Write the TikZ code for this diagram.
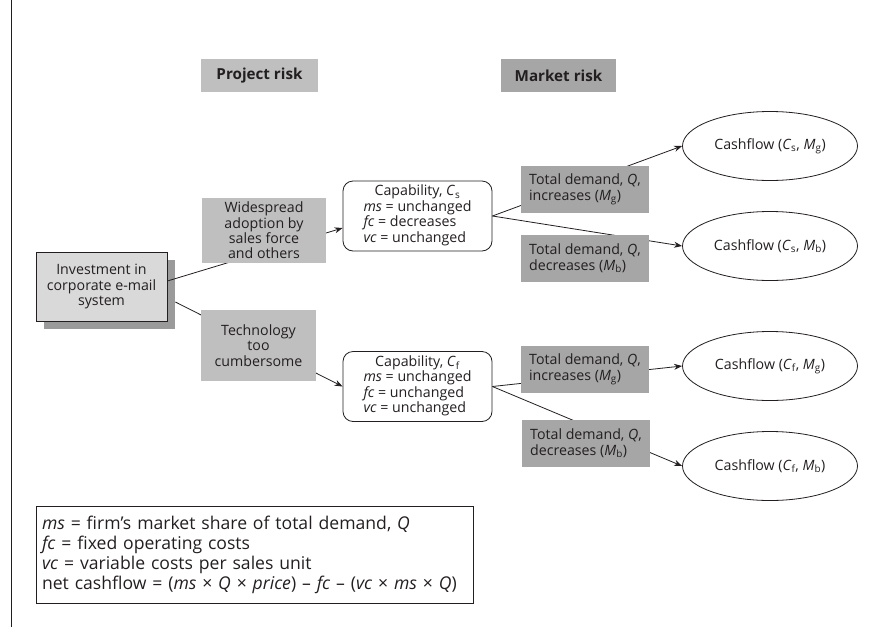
\documentclass[tikz,border=0pt]{standalone}
\usepackage{fontspec}
\setmainfont{Open Sans}
\usetikzlibrary{calc,arrows.meta,shapes.geometric,shadows}
\definecolor{ink}{HTML}{231F20}
\definecolor{paleGray}{HTML}{D9D9D9}
\definecolor{midGray}{HTML}{BFBFBF}
\definecolor{darkGray}{HTML}{A6A6A6}
\definecolor{shadowGray}{HTML}{9A9A9A}

\begin{document}
\begin{tikzpicture}[x=1pt,y=-1pt,
  txt/.style={font=\fontsize{14.2}{15.4}\selectfont, text=ink, inner sep=0pt, align=center},
  head/.style={txt, font=\fontsize{15.2}{17}\selectfont\bfseries, minimum height=33pt},
  graybox/.style={txt, rectangle, fill=midGray},
  darkbox/.style={txt, rectangle, fill=darkGray, align=left, minimum width=128pt, minimum height=47pt},
  capbox/.style={txt, draw=ink, line width=0.8pt, fill=white, rounded corners=10pt,
                 minimum width=149pt, minimum height=70pt},
  flow/.style={txt, ellipse, draw=ink, line width=0.8pt, fill=white,
               minimum width=175pt, minimum height=69pt},
  link/.style={draw=ink, line width=0.8pt},
  arr/.style={link, -{Stealth[length=8pt,width=6pt]}},
]
\useasboundingbox (0,0) rectangle (873,627);

% page frame edge
\coordinate (frameTop) at (11,0);
\coordinate (frameBot) at (11,627);
\draw[ink, line width=1pt] (frameTop) -- (frameBot);

% column headings
\node[head, fill=midGray, minimum width=117pt] (proj) at (259.5,75.5) {Project risk};
\node[head, fill=darkGray, minimum width=115pt] (mkt) at (558.5,75.5) {Market risk};

% root decision
\node[txt, draw=ink, line width=0.8pt, fill=paleGray, minimum width=131pt, minimum height=69pt,
      drop shadow={shadow xshift=8pt, shadow yshift=-8pt, fill=shadowGray, opacity=1}]
  (inv) at (101.5,286.5) {Investment in\\corporate e-mail\\system};

% capability outcomes
\node[capbox] (capS) at (417.5,216) {\begin{tabular}{@{}l@{}}
  \multicolumn{1}{@{}c@{}}{Capability, \textit{C}\textsubscript{s}}\\
  \textit{ms} = unchanged\\ \textit{fc} = decreases\\ \textit{vc} = unchanged\end{tabular}};
\node[capbox] (capF) at (417.5,386.5) {\begin{tabular}{@{}l@{}}
  \multicolumn{1}{@{}c@{}}{Capability, \textit{C}\textsubscript{f}}\\
  \textit{ms} = unchanged\\ \textit{fc} = unchanged\\ \textit{vc} = unchanged\end{tabular}};

% cashflow outcomes
\node[flow] (cf1) at (770,146) {Cashflow (\textit{C}\textsubscript{s}, \textit{M}\textsubscript{g})};
\node[flow] (cf2) at (770,246) {Cashflow (\textit{C}\textsubscript{s}, \textit{M}\textsubscript{b})};
\node[flow] (cf3) at (770,366) {Cashflow (\textit{C}\textsubscript{f}, \textit{M}\textsubscript{g})};
\node[flow] (cf4) at (770,466) {Cashflow (\textit{C}\textsubscript{f}, \textit{M}\textsubscript{b})};

% connectors
\draw[arr] ($(inv.east)+(0,-5.5)$) -- ($(capS.west)+(0,12)$);
\draw[arr] ($(inv.east)+(8,15.5)$) -- (capF.west);
\draw[arr] (capS.east) -- (cf1.west);
\draw[arr] (capS.east) -- (cf2.west);
\draw[arr] (capF.east) -- (cf3.west);
\draw[arr] (capF.east) -- (cf4.west);

% event labels laid over the connectors
\node[graybox, minimum width=124pt, minimum height=65pt] (wide) at (264,230.5)
  {Widespread\\adoption by\\sales force\\and others};
\node[graybox, minimum width=115pt, minimum height=71pt] (tech) at (258.5,345.5)
  {Technology\\too\\cumbersome};
\node[darkbox] (tdS1) at (585,189.5) {Total demand, \textit{Q},\\increases (\textit{M}\textsubscript{g})};
\node[darkbox] (tdS2) at (585,258.5) {Total demand, \textit{Q},\\decreases (\textit{M}\textsubscript{b})};
\node[darkbox] (tdF1) at (585,369.5) {Total demand, \textit{Q},\\increases (\textit{M}\textsubscript{g})};
\node[darkbox] (tdF2) at (586,443.5) {Total demand, \textit{Q},\\decreases (\textit{M}\textsubscript{b})};

% key
\node[txt, draw=ink, line width=0.8pt, align=left, font=\fontsize{17.6}{20}\selectfont,
      minimum width=437pt, minimum height=97pt, text width=425pt] (key) at (254.5,554.5)
  {\textit{ms} = firm’s market share of total demand, \textit{Q}\\
   \textit{fc} = fixed operating costs\\
   \textit{vc} = variable costs per sales unit\\
   net cashflow = (\textit{ms} × \textit{Q} × \textit{price}) – \textit{fc} – (\textit{vc} × \textit{ms} × \textit{Q})};
\end{tikzpicture}
\end{document}
